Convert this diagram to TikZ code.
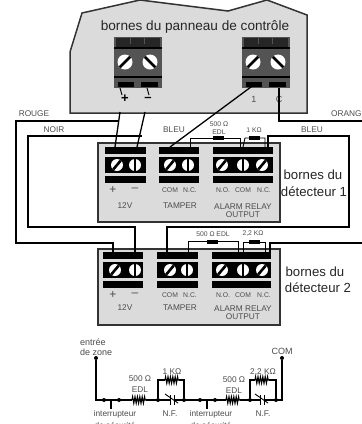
\documentclass[tikz,border=0pt]{standalone}
\usepackage{fontspec}
\setmainfont{Liberation Sans}
\usetikzlibrary{decorations.pathmorphing}
\definecolor{panelgray}{gray}{0.86}
\definecolor{termgray}{gray}{0.33}
\definecolor{labelgray}{gray}{0.3}
\tikzset{
	wire/.style={line width=1.3pt,draw=black},
	thinwire/.style={line width=0.9pt,draw=black},
	box/.style={line width=1.4pt,draw=black!80,fill=panelgray},
	screw/.style={circle,fill=white,minimum size=12pt,inner sep=0pt,path picture={\draw[line width=2.6pt,black] ({-8*cos(#1)},{8*sin(#1)})--({8*cos(#1)},{-8*sin(#1)});}},
	resbox/.style={rectangle,fill=black,minimum width=11pt,minimum height=4pt,inner sep=0pt},
	dot/.style={circle,fill=black,minimum size=4pt,inner sep=0pt},
	zig/.style={decorate,decoration={zigzag,segment length=2.4pt,amplitude=3.2pt},line width=1.1pt},
	lab/.style={inner sep=0pt,text=labelgray,font=\fontsize{6.8}{7}\selectfont},
	midlab/.style={inner sep=0pt,text=labelgray,font=\fontsize{8.3}{9}\selectfont},
	biglab/.style={inner sep=0pt,text=black!85,font=\fontsize{13.2}{14}\selectfont},
}
\begin{document}
\begin{tikzpicture}[x=1pt,y=-1pt]
	\useasboundingbox (0,0) rectangle (362,424);
	\clip (0,0) rectangle (362,424);
	% panel
	\draw[box,line width=1.5pt] (70,113)--(70,52)--(82,13)--(140,0)--(228,11)--(267,0)--(307,15)--(307,113)--cycle;
	\node[biglab,font=\fontsize{13.6}{14}\selectfont] (title) at (195,27) {bornes du panneau de contrôle};
	% panel terminals
	\foreach \x/\n in {114/pa,242/pb}{
		\fill[termgray] (\x,37) rectangle (\x+48,88);
		\fill[black!85] (\x+2,38) rectangle (\x+46,47);
		\fill[termgray] (\x+16,38) rectangle (\x+17,44);
		\fill[termgray] (\x+30,38) rectangle (\x+31,44);
		\fill[black] (\x,47) rectangle (\x+48,49);
		\fill[black] (\x,76) rectangle (\x+48,78);
		\fill[black] (\x+4,82) rectangle (\x+20,87);
		\fill[black] (\x+27,82) rectangle (\x+44,87);
		\node[screw=45,minimum size=15pt] (\n l) at (\x+11,62) {};
		\node[screw=-45,minimum size=15pt] (\n r) at (\x+36,62) {};
	}
	\node[inner sep=0pt,font=\bfseries\fontsize{13}{13}\selectfont] (plus) at (125,99) {+};
	\node[inner sep=0pt,font=\bfseries\fontsize{13}{13}\selectfont] (minus) at (148,99) {--};
	\node[midlab,font=\fontsize{9}{9}\selectfont] (one) at (254,99) {1};
	\node[midlab,font=\fontsize{9}{9}\selectfont] (ccc) at (279,99) {C};
	% detector boxes
	\draw[box] (98,143) rectangle (280,222);
	\draw[box] (98,249) rectangle (280,325);
	% detector terminals
	\foreach \x/\w/\y in {105/41/147,159/40/147,213/60/147,103/40/252,157/41/252,212/59/252}{
		\fill[black] (\x,\y) rectangle (\x+\w,\y+7);
		\fill[black] (\x,\y+10) rectangle (\x+\w,\y+26);
		\fill[black] (\x,\y+29) rectangle (\x+\w,\y+36);
	}
	\foreach \x/\a/\n in {117/50/da,135/90/db,170/50/dc,188/90/dd,222/50/de,243/90/df,262/50/dg}{
		\node[screw=\a] (\n) at (\x,165) {};
	}
	\foreach \x/\a/\n in {115/50/ea,135/90/eb,170/50/ec,187/90/ed,222/50/ee,243/90/ef,262/50/eg}{
		\node[screw=\a] (\n) at (\x,270) {};
	}
	% detector labels
	\foreach \y/\n in {190/a,295/b}{
		\node[inner sep=0pt,text=labelgray,font=\fontsize{12}{12}\selectfont] (plus\n) at (113,\y) {+};
		\node[inner sep=0pt,text=labelgray,font=\fontsize{12}{12}\selectfont] (minus\n) at (135,\y) {--};
		\node[lab] (com\n) at (170,\y) {COM};
		\node[lab] (nc\n) at (190,\y) {N.C.};
		\node[lab] (no\n) at (223,\y) {N.O.};
		\node[lab] (comm\n) at (243,\y) {COM};
		\node[lab] (ncc\n) at (264,\y) {N.C.};
	}
	\foreach \y/\n in {206/a,308/b}{
		\node[midlab] (volt\n) at (125,\y) {12V};
		\node[midlab] (tamper\n) at (180,\y) {TAMPER};
		\node[midlab] (alarm\n) at (243,\y+1) {ALARM RELAY};
		\node[midlab] (output\n) at (243,\y+9) {OUTPUT};
	}
	\node[biglab] (bornesa) at (313,175) {bornes du};
	\node[biglab] (deta) at (314,192) {détecteur 1};
	\node[biglab] (bornesb) at (315,272) {bornes du};
	\node[biglab] (detb) at (318,288) {détecteur 2};
	% wire labels
	\node[midlab] (rouge) at (34,114) {ROUGE};
	\node[midlab] (noir) at (54,130) {NOIR};
	\node[midlab] (bleua) at (174,130) {BLEU};
	\node[midlab,anchor=west] (orange) at (331,114) {ORANGE};
	\node[midlab] (bleub) at (312,130) {BLEU};
	% wires
	\coordinate (pp) at (120,88);
	\coordinate (pm) at (147,88);
	\coordinate (pone) at (255,84);
	\coordinate (pc) at (279,88);
	\draw[thinwire] (pp)--(122,95);
	\draw[thinwire] (pm)--(149,95);
	\draw[wire] (120,112)--(115,147);
	\draw[wire] (145,112)--(137,147);
	\draw[wire] (pone)--(170,147);
	\draw[wire] (pc)--(279,121)--(365,121)--(365,243)--(270,243)--(270,252);
	\draw[wire] (118,121)--(16,121)--(16,243)--(113,243)--(113,252);
	\draw[wire] (142,136)--(28,136)--(28,227)--(135,227)--(135,252);
	\draw[wire] (268,147)--(268,136)--(349,136)--(349,227)--(167,227)--(167,252);
	% resistors on detector 1
	\draw[thinwire] (190,147)--(190,138)--(240,138)--(240,147);
	\node[resbox] (ra) at (218,138) {};
	\draw[thinwire] (243,147)--(245,138)--(265,138)--(265,147);
	\node[resbox] (rb) at (254,138) {};
	\node[lab] (raa) at (219,124) {500 Ω};
	\node[lab] (rab) at (219,132) {EDL};
	\node[lab] (rba) at (254,130) {1 KΩ};
	% resistors on detector 2
	\draw[thinwire] (188,252)--(188,241)--(238,241)--(238,252);
	\node[resbox] (rc) at (212,242) {};
	\draw[thinwire] (243,252)--(243,242)--(265,242)--(265,252);
	\node[resbox] (rd) at (254,242) {};
	\node[lab] (rca) at (213,234) {500 Ω EDL};
	\node[lab] (rda) at (253,234) {2,2 KΩ};
	% schematic
	\node[dot] (in) at (96,358) {};
	\node[dot] (out) at (282,358) {};
	\node[dot] (sa) at (104,400) {};
	\node[dot] (sb) at (119,400) {};
	\node[dot] (sc) at (158,400) {};
	\node[dot] (sd) at (184,400) {};
	\node[dot] (se) at (200,400) {};
	\node[dot] (sf) at (215,400) {};
	\node[dot] (sg) at (250,400) {};
	\node[dot] (sh) at (276,400) {};
	\coordinate (la) at (96,400);
	\coordinate (lb) at (282,400);
	\draw[wire] (in)--(la)--(lb)--(out);
	\draw[wire] (111,400)--(111,409);
	\draw[wire] (207,400)--(207,409);
	\draw[wire] (sc)--(158,380)--(184,380)--(sd);
	\draw[wire] (sg)--(250,380)--(276,380)--(sh);
	\foreach \x/\y in {139/400,172/380,233/400,262/380}{
		\fill[white] (\x-7,\y-1) rectangle (\x+7,\y+1);
		\draw[zig] (\x-7,\y)--(\x+7,\y);
	}
	\foreach \x in {172,262}{
		\fill[white] (\x-2,399) rectangle (\x+2,401);
		\draw[thinwire] (\x-2,395)--(\x-2,405);
		\draw[thinwire] (\x+2,395)--(\x+2,405);
		\draw[thinwire] (\x-7,394)--(\x+6,403);
	}
	\node[midlab,anchor=west,font=\fontsize{9}{9}\selectfont] (enta) at (80,342) {entrée};
	\node[midlab,anchor=west,font=\fontsize{9}{9}\selectfont] (entb) at (80,352) {de zone};
	\node[midlab,font=\fontsize{9}{9}\selectfont] (comc) at (282,351) {COM};
	\node[midlab] (eda) at (140,379) {500 Ω};
	\node[midlab] (edb) at (140,390) {EDL};
	\node[midlab] (kaa) at (172,372) {1 KΩ};
	\node[midlab] (edc) at (234,380) {500 Ω};
	\node[midlab] (edd) at (234,391) {EDL};
	\node[midlab] (kbb) at (263,372) {2,2 KΩ};
	\node[midlab] (inta) at (115,414) {interrupteur};
	\node[midlab] (nfa) at (170,414) {N.F.};
	\node[midlab] (intb) at (211,414) {interrupteur};
	\node[midlab] (nfb) at (263,414) {N.F.};
	\node[midlab] (seca) at (115,425) {de sécurité};
	\node[midlab] (secb) at (211,425) {de sécurité};
\end{tikzpicture}
\end{document}
